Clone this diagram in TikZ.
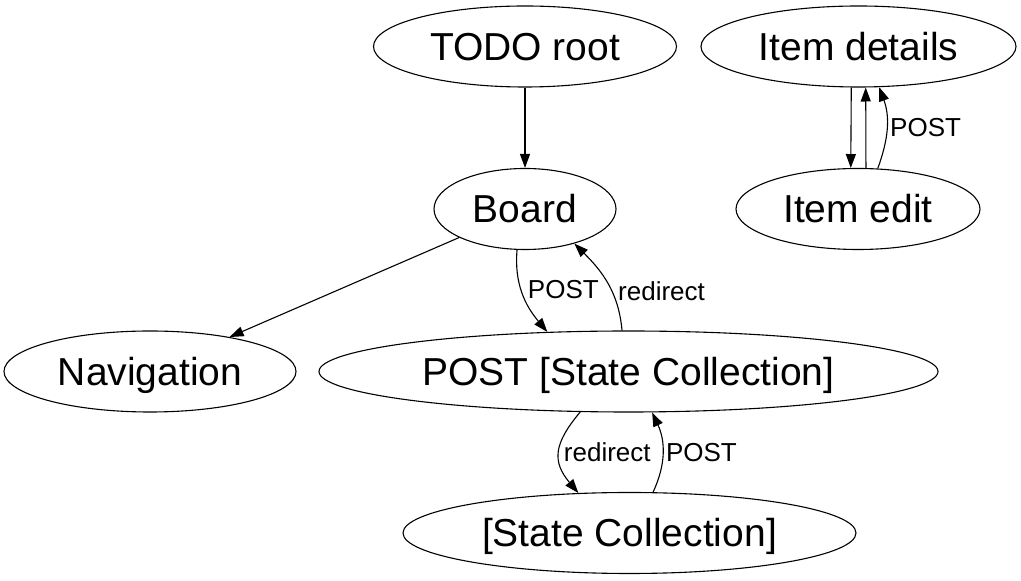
\documentclass[tikz,border=0pt]{standalone}
\usepackage{fontspec}
\setmainfont{Liberation Sans}
\usetikzlibrary{shapes.geometric,arrows.meta}

\begin{document}
\begin{tikzpicture}[x=1pt,y=1pt,line width=1.1pt,
    state/.style={ellipse, draw, inner sep=0pt, minimum height=81pt, text height=29pt, text depth=1.3pt, font=\fontsize{39}{47}\selectfont},
    link/.style={-{Triangle[length=14pt,width=10pt]}},
    lbl/.style={font=\fontsize{26}{31}\selectfont, inner sep=0pt}]
    \useasboundingbox (0,0) rectangle (1021,581);
    \node[state, minimum width=303pt] (root) at (525,534.5) {TODO root};
    \node[state, minimum width=315pt] (details) at (858.5,534.5) {Item details};
    \node[state, minimum width=182pt] (board) at (525,372) {Board};
    \node[state, minimum width=244pt] (edit) at (858,372) {Item edit};
    \node[state, minimum width=292pt] (nav) at (150,209.5) {Navigation};
    \node[state, minimum width=619pt] (postsc) at (628.5,209.5) {POST [State Collection]};
    \node[state, minimum width=453pt] (sc) at (629.5,48) {[State Collection]};

    \draw [link] (root.south) -- (board.north);
    \draw [link] (board) -- (nav);
    \draw [link] (board.259) to[out=265,in=130] node[lbl, pos=0.45, right=6pt] {POST} (postsc.154);
    \draw [link] (postsc.99) to[out=95,in=-45] node[lbl, pos=0.4, right=6pt] {redirect} (board.325);
    \draw [link] (postsc.220) to[out=230,in=130,looseness=1.3] node[lbl, right=4pt] {redirect} (sc.142);
    \draw [link] (sc.60) to[out=65,in=-65] node[lbl, right=3pt] {POST} (postsc.300);
    \draw [link] (details.260) -- (edit.100);
    \draw [link] (edit.79) -- (details.280);
    \draw [link] (edit.64) to[out=70,in=-70] node[lbl, right=3pt] {POST} (details.297);
\end{tikzpicture}
\end{document}
